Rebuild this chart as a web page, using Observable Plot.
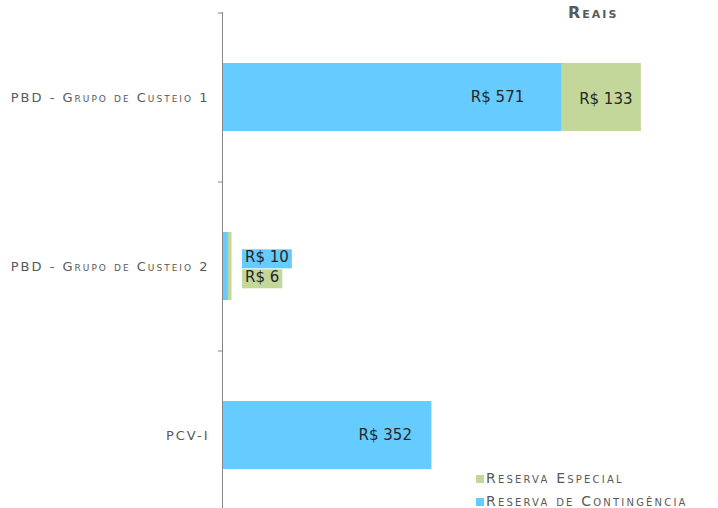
<!DOCTYPE html>
<html><head><meta charset="utf-8">
<script src="https://cdn.jsdelivr.net/npm/d3@7"></script>
<script src="https://cdn.jsdelivr.net/npm/@observablehq/plot@0.6"></script>
<style>
body{margin:0;background:#fff;}
#wrap{position:relative;width:718px;height:508px;overflow:hidden;font-family:"DejaVu Sans",sans-serif;}
#unit{position:absolute;left:568px;top:4px;font-weight:bold;font-variant:small-caps;color:#595959;font-size:16px;letter-spacing:2px;line-height:18px;}
#legend{position:absolute;left:476px;top:471px;font-variant:small-caps;color:#595959;font-size:14px;letter-spacing:2.2px;line-height:15px;}
#legend div{height:15px;margin-bottom:8px;white-space:nowrap;}
#legend .sw{display:inline-block;width:8px;height:8px;margin-right:2px;letter-spacing:0;}
</style></head>
<body><div id="wrap"><div id="unit">Reais</div><div id="legend"></div></div>
<script>
const categories = ["PBD - Grupo de Custeio 1", "PBD - Grupo de Custeio 2", "PCV-I"];
const contingencia = [571, 10, 352];
const especial = [133, 6, 0];
const series = ["Reserva de Contingência", "Reserva Especial"];
const colors = ["#66CCFF", "#C4D79B"];
const legendOrder = ["Reserva Especial", "Reserva de Contingência"];

const rows = [];
categories.forEach((c, i) => {
  rows.push({cat: c, serie: series[0], value: contingencia[i]});
  if (especial[i]) rows.push({cat: c, serie: series[1], value: especial[i]});
});
const fmt = v => "R$ " + v;
const txt = {fontSize: 15, fill: "#262626", fontVariant: "normal", letterSpacing: "0px"};

const plot = Plot.plot({
  width: 718, height: 508,
  marginLeft: 222, marginRight: 20, marginTop: 12, marginBottom: 0,
  style: {fontFamily: "DejaVu Sans", fontSize: "13px", color: "#595959", background: "transparent", fontVariant: "small-caps", letterSpacing: "2px", overflow: "visible"},
  x: {domain: [0, 800], axis: null},
  y: {domain: categories, range: [12, 519], paddingInner: 0.6, paddingOuter: 0.3, label: null, tickSize: 0, tickPadding: 13},
  color: {domain: series, range: colors},
  marks: [
    Plot.barX(rows, Plot.stackX({x: "value", y: "cat", fill: "serie", order: series})),
    Plot.ruleX([0], {stroke: "#868686"}),
    Plot.ruleY(categories, {y: d => d, x1: -7, x2: 0, dy: -84.5, stroke: "#868686"}),
    Plot.text([0], {x: () => contingencia[0], y: () => categories[0], text: () => fmt(contingencia[0]), textAnchor: "end", dx: -38, ...txt}),
    Plot.text([0], {x: () => contingencia[0] + especial[0] / 2, y: () => categories[0], text: () => fmt(especial[0]), dx: 4, dy: 2, ...txt}),
    Plot.text([0], {x: () => contingencia[2], y: () => categories[2], text: () => fmt(contingencia[2]), textAnchor: "end", dx: -20, ...txt}),
    Plot.text([0], {x: () => contingencia[1] + especial[1], y: () => categories[1], text: () => fmt(contingencia[1]), textAnchor: "start", dx: 13, dy: -9, ...txt}),
    Plot.text([0], {x: () => contingencia[1] + especial[1], y: () => categories[1], text: () => fmt(especial[1]), textAnchor: "start", dx: 13, dy: 11, ...txt})
  ]
});
plot.style.position = "absolute";
plot.style.left = "0px";
plot.style.top = "0px";
document.getElementById("wrap").prepend(plot);
plot.querySelectorAll("text").forEach(t => {
  if (t.textContent.startsWith("R$")) t.style.letterSpacing = "0px";
});

// background boxes behind the small-bar labels
const boxColor = {[fmt(contingencia[1])]: colors[0], [fmt(especial[1])]: colors[1]};
plot.querySelectorAll("text").forEach(t => {
  const c = boxColor[t.textContent];
  if (!c) return;
  const b = t.getBBox();
  const r = document.createElementNS("http://www.w3.org/2000/svg", "rect");
  r.setAttribute("x", b.x - 3); r.setAttribute("y", b.y + 1);
  r.setAttribute("width", b.width + 6); r.setAttribute("height", b.height + 1);
  r.setAttribute("fill", c);
  if (t.getAttribute("transform")) r.setAttribute("transform", t.getAttribute("transform"));
  t.parentNode.insertBefore(r, t);
});

const lg = document.getElementById("legend");
legendOrder.forEach(s => {
  const d = document.createElement("div");
  d.innerHTML = `<span class="sw" style="background:${colors[series.indexOf(s)]}"></span>${s}`;
  lg.appendChild(d);
});
</script></body></html>
